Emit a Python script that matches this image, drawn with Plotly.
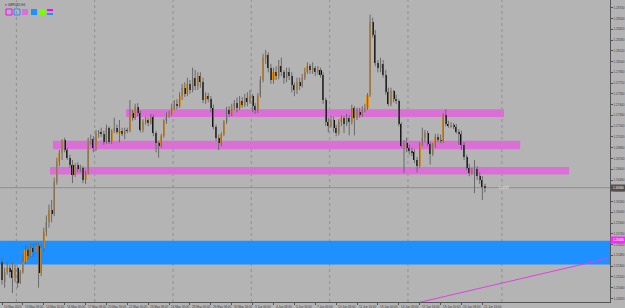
import plotly.graph_objects as go

# ---------------- data (GBPUSD, H4) ----------------
opens = [1.2539,1.2513,1.2526,1.2532,1.2529,1.2519,1.2532,1.2512,1.2526,1.2539,
 1.2555,1.2547,1.2558,1.2552,1.2560,1.2525,1.2558,1.2578,1.2591,1.2607,
 1.2602,1.2643,1.2669,1.2681,1.2698,1.2685,1.2675,1.2666,1.2653,1.2666,
 1.2660,1.2662,1.2646,1.2655,1.2698,1.2699,1.2688,1.2706,1.2708,1.2706,
 1.2695,1.2714,1.2695,1.2710,1.2714,1.2708,1.2710,1.2706,1.2711,1.2710,
 1.2733,1.2727,1.2741,1.2733,1.2711,1.2721,1.2724,1.2720,1.2728,1.2707,
 1.2694,1.2690,1.2703,1.2723,1.2730,1.2733,1.2740,1.2745,1.2742,1.2755,
 1.2766,1.2758,1.2771,1.2763,1.2779,1.2768,1.2781,1.2773,1.2750,1.2755,
 1.2751,1.2740,1.2715,1.2701,1.2694,1.2706,1.2721,1.2737,1.2732,1.2740,
 1.2746,1.2740,1.2749,1.2744,1.2753,1.2747,1.2755,1.2742,1.2737,1.2755,
 1.2776,1.2805,1.2809,1.2792,1.2776,1.2786,1.2781,1.2794,1.2786,1.2779,
 1.2786,1.2781,1.2770,1.2763,1.2773,1.2768,1.2779,1.2786,1.2794,1.2789,
 1.2792,1.2786,1.2789,1.2783,1.2750,1.2721,1.2716,1.2724,1.2714,1.2707,
 1.2721,1.2727,1.2719,1.2727,1.2721,1.2740,1.2727,1.2734,1.2730,1.2737,
 1.2740,1.2757,1.2851,1.2835,1.2798,1.2792,1.2797,1.2783,1.2760,1.2745,
 1.2762,1.2751,1.2749,1.2719,1.2690,1.2694,1.2688,1.2684,1.2682,1.2672,
 1.2664,1.2693,1.2701,1.2707,1.2693,1.2680,1.2690,1.2702,1.2698,1.2697,
 1.2730,1.2719,1.2716,1.2718,1.2715,1.2708,1.2706,1.2692,1.2676,1.2662,
 1.2655,1.2658,1.2660,1.2651,1.2646,1.2637]
highs = [1.2545,1.2532,1.2539,1.2536,1.2539,1.2536,1.2534,1.2529,1.2549,1.2562,
 1.2560,1.2563,1.2564,1.2565,1.2564,1.2563,1.2584,1.2600,1.2614,1.2620,
 1.2649,1.2675,1.2685,1.2699,1.2701,1.2688,1.2679,1.2672,1.2668,1.2669,
 1.2666,1.2664,1.2658,1.2701,1.2705,1.2703,1.2711,1.2711,1.2714,1.2710,
 1.2718,1.2716,1.2712,1.2727,1.2718,1.2724,1.2714,1.2714,1.2714,1.2750,
 1.2737,1.2745,1.2746,1.2736,1.2725,1.2728,1.2727,1.2732,1.2731,1.2710,
 1.2697,1.2706,1.2725,1.2734,1.2736,1.2745,1.2750,1.2751,1.2760,1.2771,
 1.2773,1.2779,1.2776,1.2792,1.2789,1.2786,1.2786,1.2779,1.2760,1.2759,
 1.2755,1.2744,1.2718,1.2705,1.2708,1.2724,1.2741,1.2742,1.2745,1.2750,
 1.2753,1.2755,1.2754,1.2758,1.2760,1.2763,1.2758,1.2746,1.2759,1.2781,
 1.2810,1.2815,1.2812,1.2797,1.2792,1.2794,1.2802,1.2805,1.2789,1.2792,
 1.2792,1.2786,1.2773,1.2779,1.2779,1.2784,1.2792,1.2799,1.2797,1.2799,
 1.2794,1.2794,1.2792,1.2786,1.2753,1.2727,1.2729,1.2728,1.2718,1.2725,
 1.2730,1.2729,1.2732,1.2730,1.2744,1.2742,1.2740,1.2740,1.2742,1.2745,
 1.2759,1.2861,1.2857,1.2841,1.2802,1.2805,1.2802,1.2789,1.2766,1.2766,
 1.2763,1.2757,1.2751,1.2721,1.2698,1.2701,1.2692,1.2688,1.2686,1.2676,
 1.2695,1.2714,1.2711,1.2710,1.2695,1.2694,1.2706,1.2706,1.2705,1.2733,
 1.2738,1.2723,1.2721,1.2720,1.2719,1.2712,1.2710,1.2695,1.2679,1.2667,
 1.2662,1.2672,1.2664,1.2656,1.2651,1.2641]
lows = [1.2510,1.2506,1.2523,1.2519,1.2499,1.2513,1.2506,1.2511,1.2524,1.2537,
 1.2542,1.2545,1.2546,1.2550,1.2506,1.2521,1.2552,1.2573,1.2584,1.2591,
 1.2599,1.2640,1.2664,1.2672,1.2682,1.2672,1.2662,1.2642,1.2650,1.2656,
 1.2656,1.2642,1.2641,1.2653,1.2692,1.2682,1.2684,1.2701,1.2702,1.2692,
 1.2693,1.2693,1.2693,1.2707,1.2706,1.2695,1.2703,1.2699,1.2707,1.2708,
 1.2723,1.2724,1.2729,1.2708,1.2708,1.2718,1.2716,1.2718,1.2703,1.2682,
 1.2675,1.2688,1.2701,1.2719,1.2727,1.2730,1.2737,1.2738,1.2740,1.2750,
 1.2754,1.2755,1.2758,1.2760,1.2763,1.2763,1.2766,1.2746,1.2745,1.2747,
 1.2734,1.2712,1.2697,1.2685,1.2690,1.2703,1.2719,1.2728,1.2729,1.2737,
 1.2734,1.2737,1.2740,1.2741,1.2742,1.2745,1.2734,1.2732,1.2733,1.2753,
 1.2773,1.2797,1.2786,1.2771,1.2771,1.2776,1.2777,1.2781,1.2771,1.2773,
 1.2776,1.2760,1.2755,1.2758,1.2763,1.2766,1.2776,1.2784,1.2784,1.2784,
 1.2781,1.2783,1.2779,1.2745,1.2716,1.2708,1.2714,1.2708,1.2703,1.2704,
 1.2716,1.2707,1.2716,1.2704,1.2718,1.2704,1.2724,1.2727,1.2728,1.2734,
 1.2737,1.2754,1.2831,1.2794,1.2786,1.2786,1.2779,1.2757,1.2742,1.2742,
 1.2747,1.2745,1.2716,1.2688,1.2655,1.2682,1.2679,1.2677,1.2668,1.2656,
 1.2662,1.2690,1.2695,1.2690,1.2666,1.2677,1.2688,1.2695,1.2694,1.2694,
 1.2716,1.2714,1.2714,1.2712,1.2706,1.2692,1.2685,1.2672,1.2659,1.2651,
 1.2653,1.2629,1.2646,1.2641,1.2620,1.2630]
closes = [1.2516,1.2526,1.2532,1.2526,1.2519,1.2532,1.2512,1.2526,1.2539,1.2555,
 1.2547,1.2558,1.2552,1.2560,1.2525,1.2558,1.2578,1.2591,1.2607,1.2602,
 1.2643,1.2669,1.2681,1.2698,1.2685,1.2675,1.2666,1.2653,1.2666,1.2660,
 1.2662,1.2646,1.2655,1.2698,1.2699,1.2688,1.2706,1.2708,1.2706,1.2695,
 1.2714,1.2695,1.2710,1.2714,1.2708,1.2710,1.2706,1.2711,1.2710,1.2733,
 1.2727,1.2741,1.2733,1.2711,1.2721,1.2724,1.2720,1.2728,1.2707,1.2694,
 1.2690,1.2703,1.2723,1.2730,1.2733,1.2740,1.2745,1.2742,1.2755,1.2766,
 1.2758,1.2771,1.2763,1.2779,1.2768,1.2781,1.2773,1.2750,1.2755,1.2751,
 1.2740,1.2715,1.2701,1.2694,1.2706,1.2721,1.2737,1.2732,1.2740,1.2746,
 1.2740,1.2749,1.2744,1.2753,1.2747,1.2755,1.2742,1.2737,1.2755,1.2776,
 1.2805,1.2809,1.2792,1.2776,1.2786,1.2781,1.2794,1.2786,1.2779,1.2786,
 1.2781,1.2770,1.2763,1.2773,1.2768,1.2779,1.2786,1.2794,1.2789,1.2792,
 1.2786,1.2789,1.2783,1.2750,1.2721,1.2716,1.2724,1.2714,1.2707,1.2721,
 1.2727,1.2719,1.2727,1.2721,1.2740,1.2727,1.2734,1.2730,1.2737,1.2740,
 1.2757,1.2851,1.2835,1.2798,1.2792,1.2797,1.2783,1.2760,1.2745,1.2762,
 1.2751,1.2749,1.2719,1.2690,1.2694,1.2688,1.2684,1.2682,1.2672,1.2664,
 1.2693,1.2701,1.2707,1.2693,1.2680,1.2690,1.2702,1.2698,1.2697,1.2730,
 1.2719,1.2716,1.2718,1.2715,1.2708,1.2706,1.2692,1.2676,1.2662,1.2655,
 1.2658,1.2660,1.2651,1.2646,1.2637,1.2636]

# time-axis labels (bar index -> text)
label_bars = [0, 8, 16, 24, 32, 40, 48, 56, 64, 72, 80, 88, 96, 104, 112, 120,
              128, 136, 144, 152, 160, 168, 176, 184]
label_texts = ["10 May 2024", "13 May 08:00", "14 May 16:00", "16 May 00:00",
               "17 May 08:00", "20 May 16:00", "22 May 00:00", "23 May 08:00",
               "24 May 16:00", "28 May 00:00", "29 May 08:00", "30 May 16:00",
               "3 Jun 00:00", "4 Jun 08:00", "5 Jun 16:00", "7 Jun 00:00",
               "10 Jun 08:00", "11 Jun 16:00", "13 Jun 00:00", "14 Jun 08:00",
               "17 Jun 16:00", "19 Jun 00:00", "20 Jun 08:00", "21 Jun 16:00"]
grid_bars = [5.5, 35.5, 65.5, 95.5, 125.5, 155.5, 191.5]

price_ticks = [1.2870, 1.2856, 1.2842, 1.2828, 1.2814, 1.2800, 1.2786, 1.2772,
               1.2758, 1.2744, 1.2730, 1.2716, 1.2702, 1.2688, 1.2674, 1.2660,
               1.2646, 1.2632, 1.2618, 1.2604, 1.2590, 1.2576, 1.2562, 1.2548,
               1.2534, 1.2520, 1.2506, 1.2492]

# zones: (start bar, end bar, top price, bottom price)
orchid_zones = [(47.5, 192.3, 1.2738, 1.2728),
                (19.5, 198.5, 1.2697, 1.2686),
                (18.4, 217.2, 1.2663, 1.2653)]
blue_zone = (-5, 260, 1.2567, 1.2536)
trend_line = [(160, 1.2487), (232, 1.2544)]
zone_label_price = 1.2568

# ---------------- styling ----------------
BG = "#B4B4B4"
UP = "#E0901E"
DOWN = "#111111"
WICK = "#6A6A6A"
ORCHID = "#DA70D6"
BLUE = "#1E90FF"
PLOT_W, PLOT_H = 610, 302
FONT = "Liberation Sans"

n = len(closes)
xs = list(range(n))

wx, wy = [], []
for i in xs:
    wx += [i, i, None]
    wy += [lows[i], highs[i], None]

body_base = [min(o, c) for o, c in zip(opens, closes)]
body_len = [max(abs(c - o), 0.00004) for o, c in zip(opens, closes)]
body_col = [UP if c > o else DOWN for o, c in zip(opens, closes)]

fig = go.Figure()
fig.add_trace(go.Scatter(x=wx, y=wy, mode="lines",
                         line=dict(color=WICK, width=1),
                         hoverinfo="skip", showlegend=False))
fig.add_trace(go.Bar(x=xs, y=body_len, base=body_base, width=0.78,
                     marker=dict(color=body_col, line=dict(width=0)),
                     showlegend=False))

shapes = []
for gb in grid_bars:
    shapes.append(dict(type="line", xref="x", yref="paper", x0=gb, x1=gb,
                       y0=0, y1=1, layer="below",
                       line=dict(color="#909090", width=1, dash="dot")))
x0b, x1b, tb, bb = blue_zone
shapes.append(dict(type="rect", xref="x", yref="y", x0=x0b, x1=x1b, y0=bb, y1=tb,
                   fillcolor=BLUE, line=dict(width=0), layer="below"))
for (a, b, t, btm) in orchid_zones:
    shapes.append(dict(type="rect", xref="x", yref="y", x0=a, x1=b, y0=btm, y1=t,
                       fillcolor=ORCHID, line=dict(width=0), layer="below"))
shapes.append(dict(type="line", xref="x", yref="y",
                   x0=trend_line[0][0], y0=trend_line[0][1],
                   x1=trend_line[1][0], y1=trend_line[1][1],
                   line=dict(color="#E040E0", width=1)))
# bid line
shapes.append(dict(type="line", xref="paper", yref="y", x0=0, x1=1,
                   y0=closes[-1], y1=closes[-1], layer="below",
                   line=dict(color="#8E8E8E", width=1)))


def px_rect(x0, y0, x1, y1, **kw):
    return dict(type="rect", xref="paper", yref="paper",
                x0=x0 / PLOT_W, x1=x1 / PLOT_W,
                y0=1 - y1 / PLOT_H, y1=1 - y0 / PLOT_H, **kw)


# indicator buttons in the top-left corner
shapes.append(px_rect(6, 9, 12, 15, line=dict(color="#FF00FF", width=1)))
shapes.append(px_rect(14, 9, 20, 15, line=dict(color=BLUE, width=1)))
shapes.append(px_rect(22, 9, 28, 15, fillcolor=ORCHID, line=dict(width=0)))
shapes.append(px_rect(31, 9, 37, 15, fillcolor=BLUE, line=dict(width=0)))
shapes.append(px_rect(39, 9, 45, 15, fillcolor="#7CFC00", line=dict(width=0)))
shapes.append(px_rect(47, 9, 53, 11, fillcolor="#FF00FF", line=dict(width=0)))
shapes.append(px_rect(47, 13, 53, 15, fillcolor=BLUE, line=dict(width=0)))

annotations = []
for b, t in zip(label_bars, label_texts):
    annotations.append(dict(x=b, y=0, xref="x", yref="paper", text=t,
                            showarrow=False, xanchor="left", yanchor="top",
                            yshift=-1, font=dict(family=FONT, size=3, color="#404040")))
annotations.append(dict(x=1, y=closes[-1], xref="paper", yref="y",
                        text=f"{closes[-1]:.5f}", showarrow=False,
                        xanchor="left", yanchor="middle", bgcolor="#505050",
                        borderpad=1, width=13,
                        font=dict(family=FONT, size=3, color="#FFFFFF")))
annotations.append(dict(x=1, y=zone_label_price, xref="paper", yref="y",
                        text=f"{zone_label_price:.5f}", showarrow=False,
                        xanchor="left", yanchor="middle", bgcolor="#F030F0",
                        borderpad=1, width=13,
                        font=dict(family=FONT, size=3, color="#FFFFFF")))
annotations.append(dict(x=n + 2, y=closes[-1], xref="x", yref="y",
                        text="\u2190 1:24:37", showarrow=False,
                        xanchor="left", yanchor="middle",
                        font=dict(family=FONT, size=3, color="#F4F4F4")))
annotations.append(dict(x=3 / PLOT_W, y=1, xref="paper", yref="paper",
                        text="\u25BE GBPUSD,H4", showarrow=False,
                        xanchor="left", yanchor="top", yshift=-1,
                        font=dict(family=FONT, size=3, color="#303030")))

fig.update_layout(
    width=625, height=308,
    margin=dict(l=0, r=15, t=0, b=6, autoexpand=False),
    paper_bgcolor=BG, plot_bgcolor=BG,
    bargap=0, showlegend=False,
    shapes=shapes, annotations=annotations,
    font=dict(family=FONT, size=3, color="#404040"),
    xaxis=dict(range=[-0.77, 232.9], showgrid=False, zeroline=False,
               showticklabels=False, tickvals=label_bars, ticks="outside",
               ticklen=2, tickcolor="#555555",
               showline=True, linecolor="#555555", linewidth=1, fixedrange=True),
    yaxis=dict(range=[1.24874, 1.2880], side="right", showgrid=False,
               zeroline=False, tickvals=price_ticks, tickformat=".5f",
               ticks="outside", ticklen=2, tickcolor="#555555",
               tickfont=dict(family=FONT, size=3, color="#404040"),
               showline=True, linecolor="#555555", linewidth=1,
               automargin=False, fixedrange=True),
)

fig.write_html("out.html")
